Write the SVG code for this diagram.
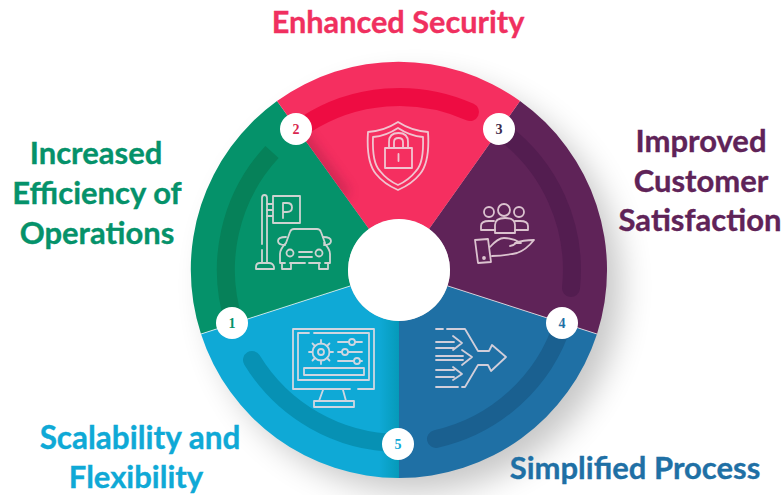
<svg xmlns="http://www.w3.org/2000/svg" width="783" height="495" viewBox="0 0 783 495">
<defs>
<style>
.t{font-family:Lato,"Open Sans",sans-serif;font-weight:700;font-size:31px;text-anchor:middle;stroke-width:.35px}
.n{font-family:"Liberation Serif",serif;font-weight:700;font-size:14px;text-anchor:middle}
.b{fill:none;stroke-width:18;stroke-linecap:round}
.i{fill:none;stroke:#f1dfe4;stroke-width:1.8;stroke-linecap:round;stroke-linejoin:round;opacity:.85}
.d{fill:#fff}
</style>
<filter id="sh" x="-30%" y="-30%" width="170%" height="170%"><feGaussianBlur stdDeviation="16"/></filter>
<filter id="ds" x="-50%" y="-50%" width="200%" height="200%"><feGaussianBlur stdDeviation="6"/></filter>
<linearGradient id="cy" x1="0" x2="1" y1="0" y2="0"><stop offset=".9" stop-color="#0fa9d6"/><stop offset="1" stop-color="#059ab9"/></linearGradient>
<clipPath id="rc"><path d="M277 101A208 208 0 0 1 520 101L429 229A51 51 0 0 0 369 229Z"/></clipPath>
</defs>
<rect width="783" height="495" fill="#fff"/>
<circle cx="415" cy="286" r="206" fill="#000" opacity=".22" filter="url(#sh)"/>
<g id="sector-green"><path d="M277 101A208 208 0 0 0 201 334L350.500 286A51 51 0 0 1 369 229Z" fill="#05926a"/><path d="M234 322A173 173 0 0 1 272 152" fill="none" stroke-width="18" stroke="#068159"/></g>
<g id="sector-cyan"><path d="M201 334A208 208 0 0 0 399 478V321A51 51 0 0 1 350.500 286Z" fill="url(#cy)"/><path class="b" d="M252 360A173 173 0 0 0 398 443" stroke="#0791b4"/></g>
<g id="sector-blue"><path d="M597 334A208 208 0 0 1 399 478V321A51 51 0 0 0 447.500 286Z" fill="#1f70a5"/><path class="b" d="M563 323A173 173 0 0 1 436 439" stroke="#1a6090"/></g>
<g id="sector-purple"><path d="M520 101A208 208 0 0 1 597 334L447.500 286A51 51 0 0 0 429 229Z" fill="#5f2358"/><path class="b" d="M499 129A173 173 0 0 1 571 288" stroke="#531d50"/></g>
<g id="sector-red"><path d="M277 101A208 208 0 0 1 520 101L429 229A51 51 0 0 0 369 229Z" fill="#f52f60"/><g clip-path="url(#rc)"><path d="M296 129L345 196" stroke="#8d1f3e" stroke-width="12" opacity=".4" filter="url(#ds)"/></g><path class="b" d="M305 125A173 173 0 0 1 470 112" stroke="#ee0c42"/></g>
<g stroke="#fff" stroke-width="1" opacity=".7"><path d="M201 334L350 286M597 334L448 286"/></g>
<circle id="hub" cx="399" cy="270" r="51" fill="#fff"/>
<g id="icon-parking" class="i">
<path d="M262 244V198q0-3 2.500-3t2.500 3V262M262 250V262"/><path d="M256 269v-2q0-4 4-4h9q4 0 5 4v2z"/>
<path d="M273 196h27v27h-27zM267 204h6M267 216h6M267 210h6"/><path d="M283 218V203h4q5 0 5 4.500t-5 4.500h-4"/>
<path d="M286 243l4-11q1-3 4-3h23q3 0 4 3l4 11M286 243q-6 6-6 11v9h5M324 243q6 6 6 11v9h-5M290 263h15M309 263h11M282 263v6h9v-6M319 263v6h9v-6"/><path d="M286 237q-8 0-8 4t7 4M323 237q8 0 8 4t-7 4"/>
<circle cx="290" cy="253" r="3.500"/><circle cx="319" cy="253" r="3.500"/><path d="M299 252h13M299 257h13"/>
</g>
<g id="icon-shield" class="i">
<path d="M398 122q14 9 30 10q2 30-8 42q-8 10-22 16q-14-6-22-16q-10-12-8-42q16-1 30-10z"/><path d="M398 128q12 8 25 9q1 26-7 34q-7 9-18 14q-11-5-18-14q-8-8-7-34q13-1 25-9z"/><path d="M385 148h27v20h-27z"/><path d="M389 148v-6q0-9 9.500-9t9.500 9v6M394 148v-6q0-4 4.500-4t4.500 4v6"/><path d="M398.500 154v7"/>
</g>
<g id="icon-people" class="i">
<circle cx="489" cy="212" r="5"/><circle cx="504" cy="210" r="6"/><circle cx="519" cy="212" r="5"/>
<path d="M481 230v-4q0-5 8-5h5M528 230v-4q0-5-8-5h-5M481 230h14M515 230h13"/><path d="M495 233v-8q0-7 10-7t10 7v8z"/>
<path d="M475 240l13-1 3 23-13 1zM490 247q8-9 14-9q9 0 17 5h-5q-3 3-6 3M515 243q8-3 19-3q-8 10-17 13q-14 3-25 3"/><circle cx="484" cy="258" r="1"/>
</g>
<g id="icon-monitor" class="i">
<path d="M358 389h16v-60h-81v60h57M298 380v-47h11M314 333h55v47h-71"/>
<path d="M323 390l-4 11M343 390l3 11M314 401h40v6h-40zM330 401h24" />
<path d="M304 368h60v7h-60z"/>
<circle cx="321" cy="352" r="8.500"/><circle cx="321" cy="352" r="3"/><path d="M321 343.500v-3.500M321 364v-3.500M312.500 352h-3.500M333 352h-3.500M315 346l-2.500-2.500M329.500 360.500L327 358M327 346l2.500-2.500M312.500 360.500L315 358"/>
<path d="M338 342h24M338 352h24M338 361h24"/><circle cx="352" cy="342" r="3" fill="#0fa9d6"/><circle cx="345" cy="352" r="3" fill="#0fa9d6"/><circle cx="357" cy="361" r="3" fill="#0fa9d6"/>
</g>
<g id="icon-merge" class="i">
<path d="M436 329h7M447 329h18l13 22h11l3-6 14 12-15 14-3-6h-10l-13 22h-3M436 387h22"/>
<path d="M436 342h18M436 348h18M453 336l9 7-9 7M436 356h27M436 360h27M462 350l10 7-10 8M436 370h18M436 377h18M453 367l9 7-9 6"/>
</g>
<g id="badge-1"><circle class="d" cx="232" cy="323" r="16"/><text class="n" x="232" y="328" fill="#05926a">1</text></g>
<g id="badge-2"><circle class="d" cx="296" cy="129" r="16"/><text class="n" x="296" y="134" fill="#d9264f">2</text></g>
<g id="badge-3"><circle class="d" cx="499" cy="129" r="16"/><text class="n" x="499" y="134" fill="#3b2a4a">3</text></g>
<g id="badge-4"><circle class="d" cx="562" cy="323" r="16"/><text class="n" x="562" y="328" fill="#1f70a5">4</text></g>
<g id="badge-5"><circle class="d" cx="398" cy="444" r="16"/><text class="n" x="398" y="449" fill="#0fa9d6">5</text></g>
<text class="t" x="398" y="33" fill="#f0305f" stroke="#f0305f" style="font-size:30.700px">Enhanced Security</text>
<g fill="#05926a" stroke="#05926a"><text class="t" x="96" y="164">Increased</text><text class="t" x="97" y="204">Efficiency of</text><text class="t" x="97" y="244">Operations</text></g>
<g fill="#5f2358" stroke="#5f2358"><text class="t" x="701" y="152">Improved</text><text class="t" x="701" y="192">Customer</text><text class="t" x="700" y="231">Satisfaction</text></g>
<g fill="#0fa9d6" stroke="#0fa9d6"><text class="t" x="140" y="449" style="font-size:31.500px">Scalability and</text><text class="t" x="136" y="488">Flexibility</text></g>
<text class="t" x="635" y="479" fill="#1f70a5" stroke="#1f70a5">Simplified Process</text>
</svg>
